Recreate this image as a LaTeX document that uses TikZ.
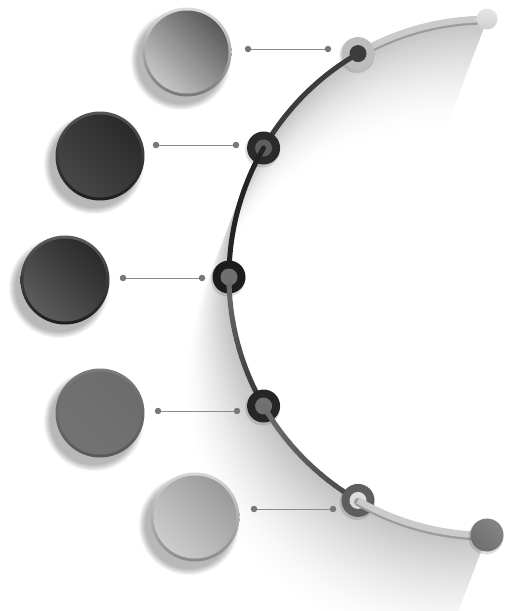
\documentclass[tikz,border=0pt]{standalone}
\usetikzlibrary{calc}
\definecolor{lineg}{HTML}{8A8A8A}
\definecolor{dotg}{HTML}{777777}
\definecolor{segL}{HTML}{CBCBCB}
\definecolor{segLe}{HTML}{9C9C9C}
\definecolor{segA}{HTML}{3C3C3C}
\definecolor{segB}{HTML}{242424}
\definecolor{segG}{HTML}{6E6E6E}
\definecolor{segD}{HTML}{363636}
\definecolor{segE}{HTML}{484848}
\definecolor{ringA}{HTML}{BDBDBD}
\definecolor{hubA}{HTML}{3C3C3C}
\definecolor{ringB}{HTML}{2A2A2A}
\definecolor{hubB}{HTML}{5E5E5E}
\definecolor{ringC}{HTML}{1C1C1C}
\definecolor{hubC}{HTML}{707070}
\definecolor{ringD}{HTML}{262626}
\definecolor{ringE}{HTML}{5E5E5E}
\definecolor{hubE}{HTML}{DCDCDC}
\definecolor{endTa}{HTML}{E6E6E6}
\definecolor{endTb}{HTML}{CFCFCF}
\definecolor{endBa}{HTML}{858585}
\definecolor{endBb}{HTML}{6E6E6E}
\newcommand\bigdisc[7]{%
  \definecolor{rimT}{HTML}{#4}\definecolor{rimB}{HTML}{#5}%
  \definecolor{inT}{HTML}{#6}\definecolor{inB}{HTML}{#7}%
  \foreach \s in {0,...,6} \fill[black,opacity=0.045] (#2-6,#3+8) circle[radius=50-\s];
  \node[bigdisc,top color=rimT,bottom color=rimB] (#1) at (#2,#3) {};
  \shade[top color=inT,bottom color=inB,shading angle=-45] (#1.center) circle[radius=41.5];
}
\begin{document}
\begin{tikzpicture}[x=1pt,y=-1pt,
  bigdisc/.style={circle,minimum size=89pt,inner sep=0pt,shading angle=-45},
  seg/.style={line width=5pt,line cap=round},
  ringnode/.style={circle,minimum size=33pt,inner sep=0pt},
  hubnode/.style={circle,minimum size=17pt,inner sep=0pt},
  tick/.style={circle,fill=dotg,minimum size=6.5pt,inner sep=0pt},
  link/.style={draw=lineg,line width=1pt}]
\useasboundingbox (0,0) rectangle (510,611);
\clip (0,0) rectangle (510,611);
\fill[white] (0,0) rectangle (510,611);
\def\R{258}
\coordinate (C) at (487,277);
% long shadow of the arc (opaque, far to near)
\foreach \k in {110,109,...,0}{
  \pgfmathsetmacro\p{24*(1-\k/110)^1.6}
  \draw[line width=2.6pt,black!\p!white]
    ($(C)+(270:\R)+(-0.38*\k,\k)$) arc[start angle=270,end angle=90,radius=\R];
}
% positions on the arc
\coordinate (p0) at ($(C)+(270:\R)$);
\coordinate (p1) at ($(C)+(240:\R)$);
\coordinate (p2) at ($(C)+(210:\R)$);
\coordinate (p3) at ($(C)+(180:\R)$);
\coordinate (p4) at ($(C)+(150:\R)$);
\coordinate (p5) at ($(C)+(120:\R)$);
\coordinate (p6) at ($(C)+(90:\R)$);
% big discs
\bigdisc{c1}{187}{52}{DDDDDD}{777777}{5A5A5A}{C6C6C6}
\bigdisc{c2}{100}{156}{555555}{1E1E1E}{2A2A2A}{474747}
\bigdisc{c3}{65}{280}{5C5C5C}{1E1E1E}{2A2A2A}{5C5C5C}
\bigdisc{c4}{100}{413}{7C7C7C}{585858}{6C6C6C}{737373}
\bigdisc{c5}{195}{517}{D6D6D6}{8A8A8A}{9A9A9A}{CCCCCC}
% connectors
\node[tick] (a1) at (248,49) {};  \node[tick] (b1) at (328,49) {};
\node[tick] (a2) at (156,145) {}; \node[tick] (b2) at (236,145) {};
\node[tick] (a3) at (123,278) {}; \node[tick] (b3) at (202,278) {};
\node[tick] (a4) at (158,411) {}; \node[tick] (b4) at (237,411) {};
\node[tick] (a5) at (254,509) {}; \node[tick] (b5) at (333,509) {};
\foreach \i in {1,...,5} \draw[link] (a\i) -- (b\i);
% segment 0 (light)
\draw[line width=8pt,segLe,line cap=round] ($(p0)+(0,1.5)$) arc[start angle=270,end angle=240,radius=\R];
\draw[line width=6.5pt,segL,line cap=round] (p0) arc[start angle=270,end angle=240,radius=\R];
\node[circle,minimum size=21pt,inner sep=0pt,top color=endTa,bottom color=endTb] (e0) at (p0) {};
% marker 1
\fill[black,opacity=0.12] ($(p1)+(-1,2)$) circle[radius=17.5];
\node[ringnode,fill=ringA] (m1) at (p1) {};
\node[hubnode,fill=hubA] (h1) at (p1) {};
\draw[seg,segA] (m1.center) arc[start angle=240,end angle=210,radius=\R];
% marker 2
\fill[black,opacity=0.12] ($(p2)+(-1,2)$) circle[radius=17.5];
\node[ringnode,fill=ringB] (m2) at (p2) {};
\node[hubnode,fill=hubB] (h2) at (p2) {};
\draw[seg,segB] (m2.center) arc[start angle=210,end angle=180,radius=\R];
% marker 3
\fill[black,opacity=0.12] ($(p3)+(-1,2)$) circle[radius=17.5];
\node[ringnode,fill=ringC] (m3) at (p3) {};
\node[hubnode,fill=hubC] (h3) at (p3) {};
\foreach \i in {0,...,14}{
  \pgfmathsetmacro\aa{180-2*\i}
  \pgfmathsetmacro\bb{180-2*(\i+1)}
  \pgfmathtruncatemacro\pc{100-\i*100/14}
  \draw[seg,segG!\pc!segD] ($(C)+(\aa:\R)$) arc[start angle=\aa,end angle=\bb,radius=\R];
}
% marker 4
\fill[black,opacity=0.12] ($(p4)+(-1,2)$) circle[radius=17.5];
\node[ringnode,fill=ringD] (m4) at (p4) {};
\node[hubnode,fill=hubC] (h4) at (p4) {};
\foreach \i in {0,...,14}{
  \pgfmathsetmacro\aa{150-2*\i}
  \pgfmathsetmacro\bb{150-2*(\i+1)}
  \pgfmathtruncatemacro\pc{100-\i*100/14}
  \draw[seg,segG!\pc!segE] ($(C)+(\aa:\R)$) arc[start angle=\aa,end angle=\bb,radius=\R];
}
% marker 5
\fill[black,opacity=0.12] ($(p5)+(-1,2)$) circle[radius=17.5];
\node[ringnode,fill=ringE] (m5) at (p5) {};
\node[hubnode,fill=hubE] (h5) at (p5) {};
\draw[line width=8pt,segLe,line cap=round] ($(p5)+(0,1.5)$) arc[start angle=120,end angle=90,radius=\R];
\draw[line width=6.5pt,segL] (m5.center) arc[start angle=120,end angle=90,radius=\R];
\fill[black,opacity=0.12] ($(p6)+(-1,2)$) circle[radius=17.5];
\node[circle,minimum size=33pt,inner sep=0pt,top color=endBa,bottom color=endBb,shading angle=-45] (e6) at (p6) {};
\end{tikzpicture}
\end{document}
